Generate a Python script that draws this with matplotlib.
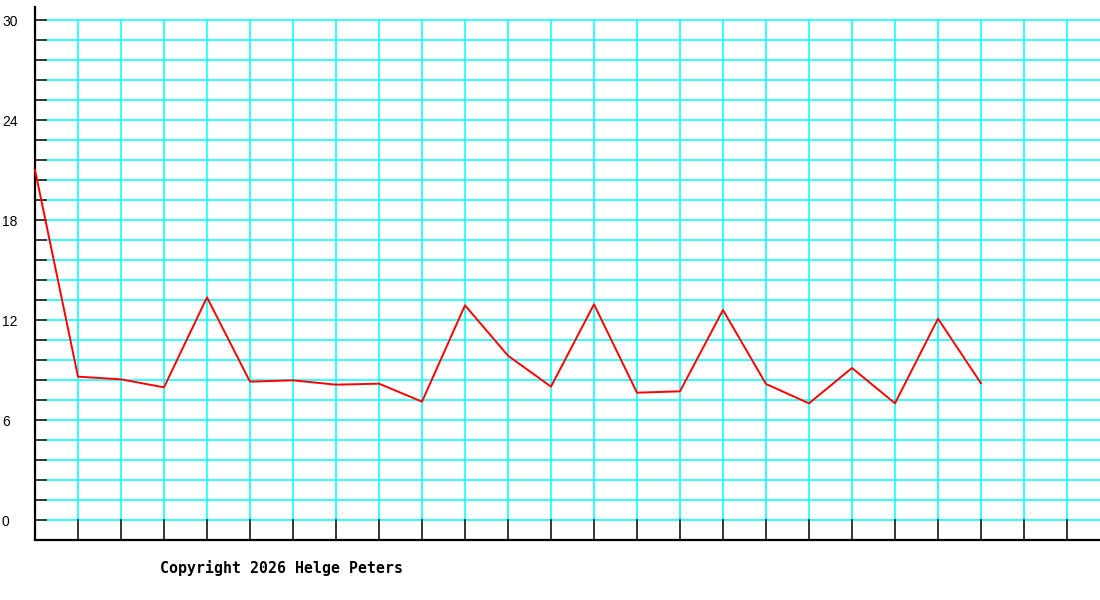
import matplotlib
matplotlib.use("Agg")
import matplotlib.pyplot as plt
from matplotlib.transforms import blended_transform_factory

# values, one per grid column starting at the y axis
values = [21.0, 8.6, 8.44, 7.96, 13.36, 8.3, 8.38, 8.12, 8.18, 7.1, 12.88, 9.86,
          8.0, 12.94, 7.64, 7.72, 12.6, 8.16, 7.0, 9.12, 7.0, 12.08, 8.2]
ytick_values = [0, 6, 12, 18, 24, 30]
ytick_labels = ["0", "6", "12", "18", "24", "30"]
copyright_text = "Copyright 2026 Helge Peters"

CYAN, RED = "#00ffff", "#ff0000"
W, H = 1100, 600
X0, COLW = 35, 43          # y axis pixel column, grid spacing
Y0, YTOP, YBOT = 520, 7, 540
PX_PER_UNIT = 500 / 30.0
GRID_STEP = 1.2

fig = plt.figure(figsize=(W / 100, H / 100), dpi=100)
ax = fig.add_axes([X0 / W, (H - YBOT) / H, (W - X0) / W, (YBOT - YTOP) / H])
ax.set_xlim(0, (W - X0) / COLW)
ax.set_ylim(-(YBOT - Y0) / PX_PER_UNIT, (Y0 - YTOP) / PX_PER_UNIT)
ax.set_xticks([]); ax.set_yticks([])
for s in ("top", "right"):
    ax.spines[s].set_visible(False)
for s in ("left", "bottom"):
    ax.spines[s].set_linewidth(1.6)
    ax.spines[s].set_color("black")

tick_len = 11 / COLW
n_h = int(round(30 / GRID_STEP))
n_v = int((W - X0) // COLW)
for k in range(n_h + 1):
    y = k * GRID_STEP
    ax.plot([tick_len, ax.get_xlim()[1]], [y, y], color=CYAN, lw=1.1, zorder=1)
    ax.plot([0, tick_len], [y, y], color="black", lw=1.1, zorder=1)
for i in range(1, n_v + 1):
    ax.plot([i, i], [0, 30], color=CYAN, lw=1.1, zorder=1)
    ax.plot([i, i], [ax.get_ylim()[0], 0], color="black", lw=1.1, zorder=1)

ax.plot(range(len(values)), values, color=RED, lw=1.4, zorder=3, clip_on=False)

# labels sit a touch below their gridline in the reference
tr = blended_transform_factory(fig.transFigure, ax.transData)
for v, lab in zip(ytick_values, ytick_labels):
    ax.text(2 / W, v - 2 / PX_PER_UNIT, lab, transform=tr, ha="left", va="center",
            fontsize=10, family="Liberation Sans", color="black")

fig.text(160 / W, (H - 573) / H, copyright_text, ha="left", va="baseline",
         fontsize=10.75, family="DejaVu Sans Mono", fontweight="bold", color="black")

fig.savefig("out.png", dpi=100, facecolor="white")
